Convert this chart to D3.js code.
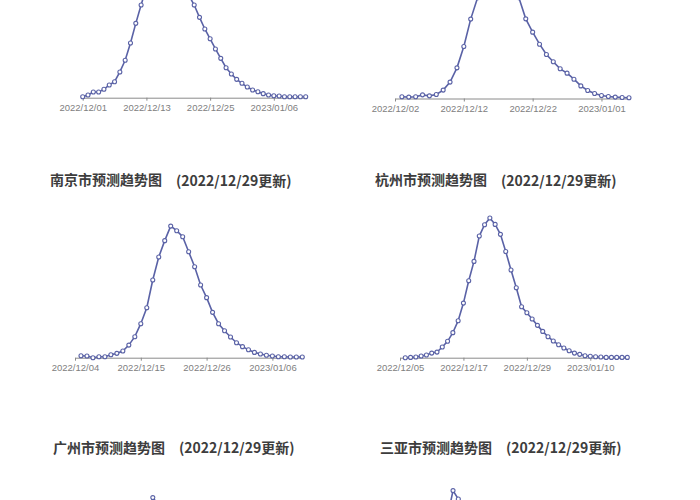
<!DOCTYPE html>
<html>
<head>
<meta charset="utf-8">
<script src="https://cdn.jsdelivr.net/npm/d3@7"></script>
<style>
  body { margin: 0; background: #fff; }
  svg { display: block; }
</style>
</head>
<body>
<div id="chart"></div>
<script>
// data (peak ~ 100)
var updated = "2022/12/29";

var topLeftStart = "2022/12/01";
var topLeftTicks = ["2022/12/01", "2022/12/13", "2022/12/25", "2023/01/06"];
var topLeftValues = [0.7, 1.9, 4.1, 4.1, 6.0, 9.1, 11.4, 18.4, 26.7, 39.1,
  53.1, 66.2, 79, 88, 93, 95, 94, 91, 86, 80,
  73, 66.2, 57.4, 49.1, 42.1, 34.8, 28.1, 21.4, 16.9, 13.1,
  10.3, 7.6, 5.5, 4.3, 2.9, 1.9, 1.4, 1.2, 0.7, 0.7,
  0.7, 0.7, 0.7];

var topRightStart = "2022/12/03";
var topRightTicks = ["2022/12/02", "2022/12/12", "2022/12/22", "2023/01/01"];
var topRightValues = [1.2, 1.0, 1.2, 2.6, 1.9, 2.9, 6.0, 11.7, 21.9, 37.1,
  56.7, 72, 85, 94, 98, 95, 86, 72, 56.9, 47.4,
  38.8, 31.4, 26.2, 21.2, 18.1, 13.8, 9.0, 5.7, 3.6, 2.1,
  1.4, 1.0, 0.7, 0.5];

var nanjingStart = "2022/12/05";
var nanjingTicks = ["2022/12/04", "2022/12/15", "2022/12/26", "2023/01/06"];
var nanjingValues = [1.4, 1.2, 0, 0.7, 0.7, 2.1, 3.1, 4.8, 9.0, 15.0,
  24.3, 35.7, 55.5, 71.9, 83.6, 94.0, 90.7, 86.4, 75.7, 65.0,
  51.9, 42.9, 32.4, 24.3, 19.3, 14.8, 10.7, 7.9, 5.7, 3.8,
  2.6, 1.7, 1.2, 0.7, 0.7, 0.5, 0.5, 0.5];

var hangzhouStart = "2022/12/06";
var hangzhouTicks = ["2022/12/05", "2022/12/17", "2022/12/29", "2023/01/10"];
var hangzhouValues = [0, 0.2, 0.5, 1.2, 1.9, 3.3, 4.0, 7.6, 11.7, 17.9,
  26.4, 39.0, 55.0, 68.8, 86.9, 95.0, 99.8, 95.2, 88.1, 75.9,
  62.6, 50.0, 36.4, 32.1, 27.6, 23.1, 18.8, 15.0, 11.9, 9.3,
  6.9, 5.0, 3.3, 2.4, 1.4, 1.0, 0.7, 0.5, 0.2, 0.2,
  0.2, 0.2, 0.2];

var guangzhouStart = "2022/12/04";
var guangzhouTicks = ["2022/12/03", "2022/12/14", "2022/12/25", "2023/01/05"];
var guangzhouValues = [0.5, 1.2, 2.2, 3.8, 6.2, 10.0, 15.5, 23.5, 34.0, 47.0,
  62.0, 80.0, 91.0, 86.0, 77.0, 66.0, 55.0, 45.0, 36.5, 29.5,
  23.5, 18.5, 14.5, 11.2, 8.6, 6.6, 5.0, 3.8, 2.9, 2.2,
  1.7, 1.3, 1.0, 0.8, 0.6, 0.5, 0.5, 0.4, 0.4, 0.4];

var sanyaStart = "2022/12/07";
var sanyaTicks = ["2022/12/06", "2022/12/18", "2022/12/30", "2023/01/11"];
var sanyaValues = [0.8, 1.8, 3.5, 6.5, 12.0, 21.0, 35.0, 55.0, 78.0, 96.0,
  90.0, 80.0, 68.0, 57.0, 47.0, 39.0, 32.0, 26.0, 21.0, 17.0,
  13.5, 10.8, 8.6, 6.8, 5.4, 4.3, 3.4, 2.7, 2.1, 1.7,
  1.3, 1.0, 0.8, 0.7, 0.6, 0.5, 0.5, 0.4, 0.4, 0.4,
  0.4, 0.4, 0.4];

// settings
var width = 700, height = 500;
var lineColor = "#5a62a6";
var parse = d3.timeParse("%Y/%m/%d");
var fmt = d3.timeFormat("%Y/%m/%d");

var panels = [
  {city: null, start: topLeftStart, ticks: topLeftTicks, values: topLeftValues, x0: 82.7, x1: 305.7, base: 97.7, tx: 50},
  {city: null, start: topRightStart, ticks: topRightTicks, values: topRightValues, x0: 395, x1: 629, base: 98.5, tx: 375},
  {city: "南京市", start: nanjingStart, ticks: nanjingTicks, values: nanjingValues, x0: 75, x1: 302.3, base: 357.7, tx: 50},
  {city: "杭州市", start: hangzhouStart, ticks: hangzhouTicks, values: hangzhouValues, x0: 400, x1: 627.3, base: 357.7, tx: 375},
  {city: "广州市", start: guangzhouStart, ticks: guangzhouTicks, values: guangzhouValues, x0: 80, x1: 304, base: 625, tx: 53},
  {city: "三亚市", start: sanyaStart, ticks: sanyaTicks, values: sanyaValues, x0: 400, x1: 628, base: 625, tx: 380}
];

var svg = d3.select("#chart")
  .append("svg")
  .attr("width", width)
  .attr("height", height);

panels.forEach(function(p) {
  var t0 = parse(p.start);
  var data = p.values.map(function(v, i) {
    return {date: d3.timeDay.offset(t0, i), value: v};
  });

  var x = d3.scaleTime()
    .domain([parse(p.ticks[0]), data[data.length - 1].date])
    .range([p.x0, p.x1]);

  var y = d3.scaleLinear()
    .domain([0, 100])
    .range([p.base, p.base - 140]);

  var g = svg.append("g");

  // title
  if (p.city) {
    var title = g.append("text")
      .attr("x", p.tx)
      .attr("y", p.base - 176)
      .attr("dominant-baseline", "middle")
      .attr("font-family", "'Noto Sans CJK SC', sans-serif")
      .attr("font-size", 14)
      .attr("font-weight", "bold")
      .attr("fill", "#3d3d3d")
      .text(p.city + "预测趋势图");
    title.append("tspan")
      .attr("dx", 14)
      .text("(" + updated + "更新)");
  }

  // x axis, only when its baseline is inside the picture
  if (p.base < height) {
    var axis = g.append("g")
      .attr("transform", "translate(0," + p.base + ")")
      .call(d3.axisBottom(x)
        .tickValues(p.ticks.map(parse))
        .tickFormat(fmt)
        .tickSize(3)
        .tickSizeOuter(0)
        .tickPadding(4));
    axis.select(".domain").attr("stroke", "#8a8a8a");
    axis.selectAll(".tick line").attr("stroke", "#8a8a8a");
    axis.selectAll(".tick text")
      .attr("fill", "#808080")
      .attr("font-family", "'Liberation Sans', Arial, sans-serif")
      .attr("font-size", 9.5);
  }

  var line = d3.line()
    .x(function(d) { return x(d.date); })
    .y(function(d) { return y(d.value); });

  g.append("path")
    .datum(data)
    .attr("fill", "none")
    .attr("stroke", lineColor)
    .attr("stroke-width", 1.6)
    .attr("d", line);

  g.append("g")
    .selectAll("circle")
    .data(data)
    .enter()
    .append("circle")
    .attr("cx", function(d) { return x(d.date); })
    .attr("cy", function(d) { return y(d.value); })
    .attr("r", 2)
    .attr("fill", "#fff")
    .attr("stroke", lineColor)
    .attr("stroke-width", 1.1);
});
</script>
</body>
</html>
